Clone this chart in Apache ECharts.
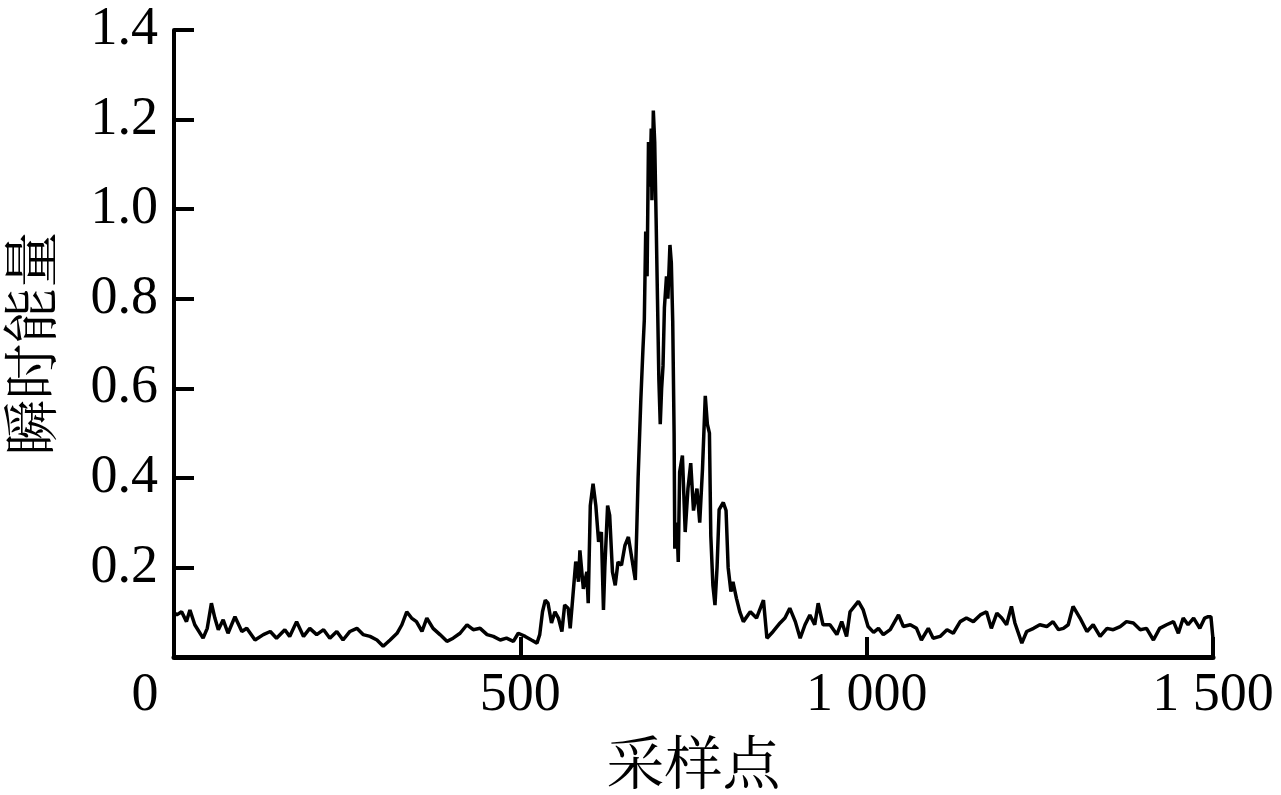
<!DOCTYPE html>
<html>
<head>
<meta charset="utf-8">
<script src="https://cdn.jsdelivr.net/npm/echarts@6/dist/echarts.min.js"></script>
<style>
html,body{margin:0;padding:0;background:#fff;}
#c{width:1281px;height:795px;}
</style>
</head>
<body>
<div id="c"></div>
<script>
// sample positions (x)
const samples = [0,4,11,18,23,30,42,48,54,59,64,71,78,88,98,105,117,129,139,148,160,167,177,187,196,206,216,225,235,244,254,264,273,283,293,302,312,322,329,336,343,350,358,365,374,384,394,403,413,423,432,442,452,461,471,480,490,497,507,516,524,528,532,536,540,545,550,555,560,564,569,572,576,580,584,586,591,596,598,601,605,609,613,617,620,622,626,629,633,637,641,646,651,656,661,666,668,670,674,677,679,681,683,685,687,689,690,692,694,696,698,700,702,704,706,708,711,713,716,718,720,722,723,726,728,730,734,738,742,746,750,755,759,763,767,770,773,775,778,781,784,787,793,797,800,804,807,812,817,822,832,841,851,856,865,875,882,889,897,904,911,918,925,930,937,947,957,964,971,976,988,995,1002,1010,1017,1024,1034,1046,1053,1063,1072,1079,1089,1096,1106,1116,1125,1135,1144,1154,1164,1173,1180,1188,1195,1202,1209,1214,1224,1231,1241,1250,1260,1269,1277,1284,1291,1298,1308,1318,1327,1337,1347,1356,1366,1375,1385,1395,1404,1414,1423,1433,1443,1450,1457,1464,1472,1481,1488,1493,1497,1500];
// instantaneous energy at each sample
const energy = [0.10,0.094,0.101,0.079,0.105,0.072,0.042,0.064,0.12,0.087,0.061,0.083,0.053,0.090,0.057,0.064,0.038,0.050,0.057,0.042,0.061,0.046,0.079,0.046,0.064,0.050,0.061,0.042,0.057,0.038,0.057,0.064,0.050,0.046,0.038,0.024,0.038,0.053,0.072,0.101,0.087,0.079,0.057,0.087,0.064,0.050,0.035,0.042,0.053,0.072,0.061,0.064,0.050,0.046,0.038,0.042,0.035,0.053,0.046,0.038,0.031,0.050,0.101,0.127,0.12,0.076,0.101,0.087,0.057,0.116,0.109,0.064,0.138,0.213,0.168,0.238,0.152,0.19,0.12,0.338,0.387,0.338,0.257,0.279,0.105,0.20,0.338,0.316,0.19,0.16,0.212,0.205,0.249,0.268,0.22,0.172,0.279,0.398,0.576,0.687,0.753,0.95,0.85,1.15,1.05,1.18,1.02,1.22,1.15,0.98,0.80,0.62,0.52,0.60,0.65,0.78,0.85,0.80,0.92,0.88,0.75,0.50,0.242,0.30,0.212,0.413,0.45,0.279,0.376,0.433,0.327,0.376,0.30,0.42,0.583,0.52,0.50,0.27,0.16,0.116,0.20,0.329,0.345,0.327,0.20,0.146,0.168,0.131,0.10,0.079,0.101,0.087,0.127,0.042,0.057,0.076,0.087,0.109,0.079,0.042,0.072,0.094,0.072,0.12,0.072,0.072,0.05,0.079,0.046,0.101,0.124,0.105,0.068,0.055,0.064,0.05,0.061,0.094,0.068,0.072,0.064,0.038,0.064,0.042,0.046,0.061,0.053,0.079,0.087,0.079,0.094,0.101,0.064,0.098,0.087,0.072,0.113,0.076,0.031,0.057,0.064,0.072,0.068,0.079,0.061,0.064,0.072,0.113,0.087,0.057,0.072,0.046,0.064,0.061,0.068,0.079,0.076,0.061,0.064,0.038,0.064,0.072,0.079,0.053,0.087,0.072,0.087,0.064,0.087,0.09,0.09,0.04];
// axis ticks
const xTicks = {min: 0, max: 1500, interval: 500};
const yTicks = {min: 0, max: 1.4, interval: 0.2};

const serif = '"Liberation Serif","Times New Roman",serif';
const cjk = '"Noto Serif CJK SC","Noto Sans CJK SC",serif';
const chart = echarts.init(document.getElementById('c'), null, {renderer: 'canvas'});
chart.setOption({
  animation: false,
  backgroundColor: '#fff',
  grid: {left: 174, right: 68, top: 30, bottom: 138, containLabel: false, outerBoundsMode: 'none'},
  xAxis: {
    type: 'value',
    min: xTicks.min, max: xTicks.max, interval: xTicks.interval,
    name: '采样点', nameLocation: 'middle', nameGap: 76,
    nameTextStyle: {fontFamily: cjk, fontSize: 58, color: '#000'},
    axisLine: {lineStyle: {color: '#000', width: 5}},
    axisTick: {inside: true, length: 20, lineStyle: {color: '#000', width: 4}},
    splitLine: {show: false},
    axisLabel: {
      margin: 12, color: '#000', fontFamily: serif, fontSize: 54,
      formatter: v => v === 0 ? '{z|0}' : String(v).replace(/\B(?=(\d{3})+(?!\d))/g, ' '),
      rich: {z: {fontFamily: serif, fontSize: 54, color: '#000', padding: [0, 58, 0, 0]}}
    }
  },
  yAxis: {
    type: 'value',
    min: yTicks.min, max: yTicks.max, interval: yTicks.interval,
    name: '瞬时能量', nameLocation: 'middle', nameGap: 116, nameRotate: 90,
    nameTextStyle: {fontFamily: cjk, fontSize: 56, color: '#000'},
    axisLine: {show: true, lineStyle: {color: '#000', width: 4}},
    axisTick: {show: true, inside: true, length: 20, lineStyle: {color: '#000', width: 4}},
    splitLine: {show: false},
    axisLabel: {
      margin: 16, color: '#000', fontFamily: serif, fontSize: 54,
      formatter: v => v === 0 ? '' : v.toFixed(1)
    }
  },
  series: [{
    type: 'line',
    showSymbol: false,
    data: samples.map((s, i) => [s, energy[i]]),
    lineStyle: {color: '#000', width: 3.5},
    itemStyle: {color: '#000'}
  }]
});
</script>
</body>
</html>
